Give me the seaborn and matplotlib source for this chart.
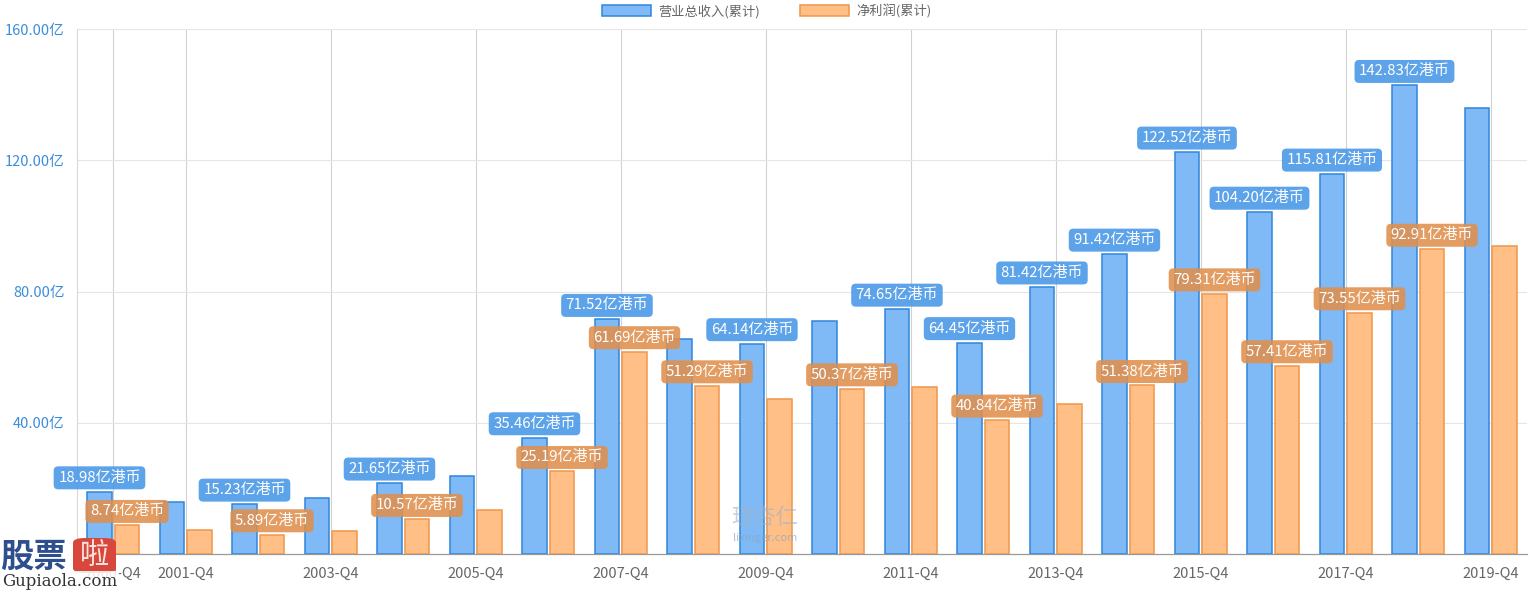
import pandas as pd
import matplotlib
matplotlib.use("Agg")
import matplotlib.pyplot as plt
import seaborn as sns
from matplotlib.patches import FancyBboxPatch

# data (亿港币)
quarters = ["2000-Q4", "2001-Q4", "2002-Q4", "2003-Q4", "2004-Q4", "2005-Q4", "2006-Q4",
            "2007-Q4", "2008-Q4", "2009-Q4", "2010-Q4", "2011-Q4", "2012-Q4", "2013-Q4",
            "2014-Q4", "2015-Q4", "2016-Q4", "2017-Q4", "2018-Q4", "2019-Q4"]
revenue = [18.98, 16.0, 15.23, 17.1, 21.65, 23.8, 35.46, 71.52, 65.5, 64.14,
           70.9, 74.65, 64.45, 81.42, 91.42, 122.52, 104.20, 115.81, 142.83, 135.9]
profit = [8.74, 7.45, 5.89, 6.9, 10.57, 13.3, 25.19, 61.69, 51.29, 47.1,
          50.37, 50.9, 40.84, 45.6, 51.38, 79.31, 57.41, 73.55, 92.91, 93.9]
series_names = ["营业总收入(累计)", "净利润(累计)"]

# which bars carry a value label
revenue_labelled = [0, 2, 4, 6, 7, 9, 11, 12, 13, 14, 15, 16, 17, 18]
profit_labelled = [0, 2, 4, 6, 7, 8, 10, 12, 14, 15, 16, 17, 18]

x_tick_labels = ["2000-Q4", "2001-Q4", "2003-Q4", "2005-Q4", "2007-Q4", "2009-Q4",
                 "2011-Q4", "2013-Q4", "2015-Q4", "2017-Q4", "2019-Q4"]
y_ticks = [40, 80, 120, 160]

df = pd.DataFrame({
    "quarter": quarters * 2,
    "value": revenue + profit,
    "series": [series_names[0]] * len(quarters) + [series_names[1]] * len(quarters),
})

# colours
blue_fill, blue_edge, blue_box = "#7fbaf7", "#2f86dc", "#4797e8"
orange_fill, orange_edge, orange_box = "#ffbf87", "#f0964a", "#e08f4c"

sns.set_style("white")
plt.rcParams["font.family"] = ["Noto Sans CJK SC", "DejaVu Sans"]

W, H = 1534, 590
fig = plt.figure(figsize=(W / 100, H / 100), dpi=100)
ax = fig.add_axes([77 / W, 1 - 554 / H, 1450 / W, 525 / H])

sns.barplot(data=df, x="quarter", y="value", hue="series", order=quarters,
            palette=[blue_fill, orange_fill], width=0.76, gap=0.1,
            saturation=1, legend=False, ax=ax, zorder=3)

for cont, ec in zip(ax.containers, [blue_edge, orange_edge]):
    for bar in cont:
        bar.set_edgecolor(ec)
        bar.set_linewidth(1.1)

# value labels
for cont, idxs, box in zip(ax.containers, [revenue_labelled, profit_labelled],
                           [blue_box, orange_box]):
    for i in idxs:
        bar = cont[i]
        xc = bar.get_x() + bar.get_width() / 2
        h = bar.get_height()
        ax.annotate(f"{h:.2f}亿港币", xy=(xc, h), xytext=(0, 10),
                    textcoords="offset points", ha="center", va="center",
                    fontsize=10.8, color="white", zorder=6,
                    bbox=dict(boxstyle="round,pad=0.3,rounding_size=0.3",
                              fc=box, ec="none", alpha=0.88))

# axes
ax.set_xlim(-0.5, len(quarters) - 0.5)
ax.set_ylim(0, 160)
ax.set_xticks([quarters.index(q) for q in x_tick_labels])
ax.set_xticklabels(x_tick_labels, fontsize=10.5, color="#666666")
ax.set_yticks(y_ticks)
ax.set_yticklabels([f"{v:.2f}亿" for v in y_ticks], fontsize=10.5, color="#3a8ddb")
ax.tick_params(axis="x", length=4, pad=5, color="#cccccc")
ax.tick_params(axis="y", length=0, pad=9)
ax.set_xlabel("")
ax.set_ylabel("")
ax.grid(axis="y", color="#e5e5e5", linewidth=0.8, zorder=0)
ax.grid(axis="x", color="#d2d2d2", linewidth=0.8, zorder=0)
ax.set_axisbelow(True)
for s in ["top", "right"]:
    ax.spines[s].set_visible(False)
ax.spines["left"].set_color("#d9d9d9")
ax.spines["left"].set_linewidth(0.8)
ax.spines["bottom"].set_color("#999999")
ax.spines["bottom"].set_linewidth(0.9)

# legend
fig.legend(ax.containers, series_names, loc="center", bbox_to_anchor=(0.5, 1 - 11 / H),
           ncol=2, frameon=False, fontsize=9.5, labelcolor="#666666",
           handlelength=3.7, handleheight=1.0, handletextpad=0.6, columnspacing=3.0)

# watermarks
fig.text(765 / W, 1 - 517 / H, "理杏仁", fontsize=16, color="#9fb4c8", alpha=0.6,
         ha="center", va="center", zorder=10)
fig.text(765 / W, 1 - 538 / H, "lixinger.com", fontsize=8, color="#8aa6c2", alpha=0.7,
         ha="center", va="center", zorder=10)
fig.text(0 / W, 1 - 557 / H, "股票", fontsize=24, fontweight="bold", color="#2e4e8e",
         ha="left", va="center", zorder=10)
logo_box = FancyBboxPatch((73 / W, 1 - 573 / H), 43 / W, 35 / H,
                          boxstyle="round,pad=0,rounding_size=0.008",
                          transform=fig.transFigure, fc="#d8473b", ec="none", zorder=9)
fig.patches.append(logo_box)
fig.text(94 / W, 1 - 556 / H, "啦", fontsize=21, color="#fbe3df",
         ha="center", va="center", zorder=10)
fig.text(2 / W, 1 - 581 / H, "Gupiaola.com", fontsize=12, family="DejaVu Serif",
         color="#333333", ha="left", va="center", zorder=10,
         bbox=dict(boxstyle="square,pad=0.1", fc="white", ec="none", alpha=0.85))

fig.savefig("out.png", dpi=100)
